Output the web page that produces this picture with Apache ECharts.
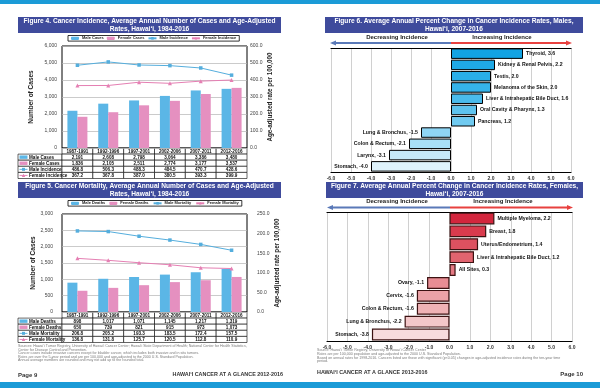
<!DOCTYPE html>
<html><head><meta charset="utf-8">
<script src="https://cdn.jsdelivr.net/npm/echarts@6/dist/echarts.min.js"></script>
<style>html,body{margin:0;padding:0;background:#fff}#c{width:600px;height:388px}</style>
</head><body><div id="c"></div><script>
// ---------- DATA ----------
const periods = ['1987-1991','1992-1996','1997-2001','2002-2006','2007-2011','2012-2016'];
const maleCases = [2191, 2608, 2798, 3064, 3386, 3480];
const femaleCases = [1836, 2105, 2511, 2774, 3177, 3537];
const maleIncidence = [486.8, 506.3, 488.3, 484.5, 470.7, 428.6];
const femaleIncidence = [367.2, 367.8, 387.0, 380.5, 393.3, 399.9];
const maleDeaths = [898, 1017, 1071, 1145, 1217, 1319];
const femaleDeaths = [650, 739, 821, 915, 973, 1073];
const maleMortality = [206.8, 205.2, 193.3, 183.5, 172.4, 157.5];
const femaleMortality = [136.8, 131.8, 125.7, 120.5, 112.8, 110.9];
const maleSites = ['Thyroid','Kidney & Renal Pelvis','Testis','Melanoma of the Skin','Liver & Intrahepatic Bile Duct','Oral Cavity & Pharynx','Pancreas','Lung & Bronchus','Colon & Rectum','Larynx','Stomach'];
const maleAPC = [3.6, 2.2, 2.0, 2.0, 1.6, 1.3, 1.2, -1.5, -2.1, -3.1, -4.0];
const femaleSites = ['Multiple Myeloma','Breast','Uterus/Endometrium','Liver & Intrahepatic Bile Duct','All Sites','Ovary','Cervix','Colon & Rectum','Lung & Bronchus','Stomach'];
const femaleAPC = [2.2, 1.8, 1.4, 1.2, 0.3, -1.1, -1.6, -1.6, -2.2, -3.8];
const casesTicks = {min:0, max:6000, interval:1000};
const incRateTicks = {min:0, max:600, interval:100};
const deathTicks = {min:0, max:3000, interval:500};
const mortRateTicks = {min:0, max:250, interval:50};
const apcTicks = {min:-6, max:6, interval:1};

// ---------- STYLE / LAYOUT ----------
const F = '"Liberation Sans", Arial, sans-serif';
const G4 = {left:62, top:46, width:185, height:102};
const G5 = {left:62, top:214, width:185, height:98};
const G6 = {left:331, top:48, width:240, height:124};
const G7 = {left:327, top:212, width:245, height:129};
const C = {maleBar:'#5bb6e6', femaleBar:'#e590c0', maleLine:'#55aedd', femaleLine:'#e57fb3',
           banner:'#3f4b9c', stripe:'#1b9bd7', blueArrow:'#5a79b8', redArrow:'#e8413f'};
const maleColors = ['#12a3e3','#1fa9e6','#2aaee8','#35b3ea','#4abbec','#5ec3ee','#70caf0','#8fd5f4','#a8dff6','#c5e9f9','#dff3fc'];
const femaleColors = ['#d3263d','#d93b4d','#dd5160','#e1646f','#e57a84','#e88d94','#eca2a7','#efb2b5','#f3c7c9','#f7dcdd'];
const fmtInt = v => v.toLocaleString('en-US');
const fmt1 = v => v.toFixed(1);

function countAxis(gi, t, nameGap, margin){
  return {type:'value', gridIndex:gi, position:'left', min:t.min, max:t.max, interval:t.interval,
    name:'Number of Cases', nameLocation:'middle', nameGap,
    nameTextStyle:{fontFamily:F, fontSize:6.5, fontWeight:'bold', color:'#222'},
    axisLine:{show:false}, axisTick:{show:false},
    axisLabel:{fontFamily:F, fontSize:5, color:'#444', margin, formatter:v=>fmtInt(v)},
    splitLine:{lineStyle:{color:'#b5b5b5', width:0.7}}};
}
function rateAxis(gi, t, nameGap, margin){
  return {type:'value', gridIndex:gi, position:'right', min:t.min, max:t.max, interval:t.interval,
    name:'Age-adjusted rate per 100,000', nameLocation:'middle', nameGap,
    nameTextStyle:{fontFamily:F, fontSize:6.3, fontWeight:'bold', color:'#222'},
    axisLine:{show:false}, axisTick:{show:false},
    axisLabel:{fontFamily:F, fontSize:5, color:'#444', margin, formatter:v=>fmt1(v)},
    splitLine:{show:false}};
}
function catAxis(gi){
  return {type:'category', gridIndex:gi, data:periods, axisLine:{show:false}, axisTick:{show:false}, axisLabel:{show:false}};
}
function apcAxis(gi, pos, labels){
  return {type:'value', gridIndex:gi, position:pos, min:apcTicks.min, max:apcTicks.max, interval:apcTicks.interval,
    axisLine:{show:true, onZero:false, lineStyle:{color:'#000', width:1.2}}, axisTick:{show:false},
    axisLabel:{show:labels, fontFamily:F, fontSize:5, fontWeight:'bold', color:'#333', margin:4, formatter:v=>fmt1(v)},
    splitLine:{show:pos==='bottom', lineStyle:{color:'#c4c4c4', width:0.8}}};
}
function siteAxis(gi, sites){
  return {type:'category', gridIndex:gi, data:sites, inverse:true, axisLine:{show:false}, axisTick:{show:false}, axisLabel:{show:false}};
}
function legendBox(names, left, top, gap){
  return {data:names, left, top, orient:'horizontal', borderColor:'#000', borderWidth:0.8, backgroundColor:'#fff',
    padding:[0.8,3,0.8,3], itemGap:gap, itemWidth:8, itemHeight:3.2,
    textStyle:{fontFamily:F, fontSize:4, fontWeight:'bold', color:'#222', padding:[0,0,0,-2]}};
}
function apcSeries(name, xi, yi, sites, vals, colors, border, bw, gap){
  return {type:'bar', name, xAxisIndex:xi, yAxisIndex:yi, barCategoryGap:gap,
    data: vals.map((v,i)=>({value:v, itemStyle:{color:colors[i]}, label:{position: v>=0?'right':'left'}})),
    itemStyle:{borderColor:border, borderWidth:bw},
    label:{show:true, fontFamily:F, fontSize:5.2, fontWeight:'bold', color:'#111', distance:3,
      formatter:p=>p.name+', '+fmt1(p.value)}};
}

// ---------- GRAPHICS ----------
const gfx = [];
const txt = (x,y,text,font,fill,align,va) => ({type:'text', x, y, z:10,
  style:{text, font, fill:fill||'#111', align:align||'left', verticalAlign:va||'middle'}});
gfx.push({type:'rect', shape:{x:0,y:0,width:600,height:4}, style:{fill:C.stripe}});
gfx.push({type:'rect', shape:{x:0,y:382,width:600,height:6}, style:{fill:C.stripe}});

function banner(x,y,w,h,l1,l2){
  gfx.push({type:'rect', shape:{x,y,width:w,height:h}, style:{fill:C.banner}});
  const f = 'bold 6.6px '+F;
  gfx.push(txt(x+w/2, y+h*0.29, l1, f, '#fff', 'center'));
  gfx.push(txt(x+w/2, y+h*0.73, l2, f, '#fff', 'center'));
}
banner(18,17,263,16,'Figure 4. Cancer Incidence, Average Annual Number of Cases and Age-Adjusted','Rates, Hawai‘i, 1984-2016');
banner(18,182,263,16,'Figure 5. Cancer Mortality, Average Annual Number of Cases and Age-Adjusted','Rates, Hawai‘i, 1984-2016');
banner(325,17,258,16,'Figure 6. Average Annual Percent Change in Cancer Incidence Rates, Males,','Hawai‘i, 2007-2016');
banner(326,182,257,16,'Figure 7. Average Annual Percent Change in Cancer Incidence Rates, Females,','Hawai‘i, 2007-2016');

function arrow(x0,x1,y,ty,dx,ix){
  const mid=(x0+x1)/2;
  gfx.push({type:'line', shape:{x1:x0+3,y1:y,x2:mid,y2:y}, style:{stroke:C.blueArrow, lineWidth:1.8}});
  gfx.push({type:'line', shape:{x1:mid,y1:y,x2:x1-3,y2:y}, style:{stroke:C.redArrow, lineWidth:1.8}});
  gfx.push({type:'polygon', shape:{points:[[x0,y],[x0+6,y-2.6],[x0+6,y+2.6]]}, style:{fill:C.blueArrow}});
  gfx.push({type:'polygon', shape:{points:[[x1,y],[x1-6,y-2.6],[x1-6,y+2.6]]}, style:{fill:C.redArrow}});
  const f='bold 6px '+F;
  gfx.push(txt(dx, ty, 'Decreasing Incidence', f, '#222', 'center'));
  gfx.push(txt(ix, ty, 'Increasing Incidence', f, '#222', 'center'));
}
arrow(330,572,43,37.5,397,502);
arrow(327,573,207.5,201.5,397,503);

function table(g, rows, rowH, labelX){
  const n=periods.length, cw=g.width/n, y0=g.top+g.height;
  const f='bold 4.6px '+F, cell={fill:'#fff', stroke:'#000', lineWidth:0.6};
  periods.forEach((p,i)=>{
    gfx.push({type:'rect', shape:{x:g.left+i*cw, y:y0, width:cw, height:rowH}, style:cell});
    gfx.push(txt(g.left+i*cw+cw/2, y0+rowH/2+0.3, p, f, '#111', 'center'));
  });
  rows.forEach((r,ri)=>{
    const y=y0+rowH*(ri+1), cy=y+rowH/2;
    gfx.push({type:'rect', shape:{x:labelX, y, width:g.left-labelX, height:rowH}, style:cell});
    if(r.icon==='bar'){
      gfx.push({type:'rect', z:11, shape:{x:labelX+1.5, y:cy-1.7, width:8, height:3.4}, style:{fill:r.color}});
    } else {
      gfx.push({type:'line', z:11, shape:{x1:labelX+1.5,y1:cy,x2:labelX+9.5,y2:cy}, style:{stroke:r.color, lineWidth:0.9}});
      if(r.icon==='rect') gfx.push({type:'rect', z:11, shape:{x:labelX+4, y:cy-1.5, width:3, height:3}, style:{fill:r.color}});
      else gfx.push({type:'polygon', z:11, shape:{points:[[labelX+5.5,cy-1.8],[labelX+3.8,cy+1.5],[labelX+7.2,cy+1.5]]}, style:{fill:r.color}});
    }
    gfx.push(txt(labelX+11, cy+0.3, r.name, f, '#111', 'left'));
    r.values.forEach((v,i)=>{
      gfx.push({type:'rect', shape:{x:g.left+i*cw, y, width:cw, height:rowH}, style:cell});
      gfx.push(txt(g.left+i*cw+cw/2, cy+0.3, r.fmt(v), f, '#111', 'center'));
    });
  });
}
table(G4, [
  {name:'Male Cases', values:maleCases, fmt:fmtInt, icon:'bar', color:C.maleBar},
  {name:'Female Cases', values:femaleCases, fmt:fmtInt, icon:'bar', color:C.femaleBar},
  {name:'Male Incidence', values:maleIncidence, fmt:fmt1, icon:'rect', color:C.maleLine},
  {name:'Female Incidence', values:femaleIncidence, fmt:fmt1, icon:'tri', color:C.femaleLine}
], 6.1, 18);
table(G5, [
  {name:'Male Deaths', values:maleDeaths, fmt:fmtInt, icon:'bar', color:C.maleBar},
  {name:'Female Deaths', values:femaleDeaths, fmt:fmtInt, icon:'bar', color:C.femaleBar},
  {name:'Male Mortality', values:maleMortality, fmt:fmt1, icon:'rect', color:C.maleLine},
  {name:'Female Mortality', values:femaleMortality, fmt:fmt1, icon:'tri', color:C.femaleLine}
], 6.1, 18);

const nf='3.6px '+F, nc='#7a7a7a';
['Sources: Hawai‘i Tumor Registry, University of Hawai‘i Cancer Center; Hawai‘i State Department of Health; National Center for Health Statistics,',
 'Center for Disease Control and Prevention.',
 'Cancer cases include invasive cancers except for bladder cancer, which includes both invasive and in situ tumors.',
 'Rates are over the 5-year period and are per 100,000 and age-adjusted to the 2000 U.S. Standard Population.',
 'Annual average numbers are rounded and may not add up to the rounded total.'
].forEach((s,i)=>gfx.push(txt(18, 346+i*3.6, s, nf, nc)));
['Source: Hawai‘i Tumor Registry, University of Hawai‘i Cancer Center',
 'Rates are per 100,000 population and age-adjusted to the 2000 U.S. Standard Population.',
 'Based on annual rates for 1998-2016. Cancers listed are those with significant (p<0.05) changes in age-adjusted incidence rates during the ten-year time',
 'period.'
].forEach((s,i)=>gfx.push(txt(317, 350+i*3.8, s, nf, nc)));
gfx.push(txt(18, 375, 'Page 9', 'bold 6px '+F, '#333'));
gfx.push(txt(283, 375, 'HAWAI‘I CANCER AT A GLANCE 2012-2016', 'bold 5.4px '+F, '#333', 'right'));
gfx.push(txt(317, 373, 'HAWAI‘I CANCER AT A GLANCE 2013-2016', 'bold 5.4px '+F, '#333'));
gfx.push(txt(583, 374, 'Page 10', 'bold 6px '+F, '#333', 'right'));

// ---------- OPTION ----------
const gridBox = g => Object.assign({show:true, borderColor:'#000', borderWidth:1, backgroundColor:'#fff'}, g);
const option = {
  animation:false,
  backgroundColor:'#fff',
  textStyle:{fontFamily:F},
  grid:[gridBox(G4), gridBox(G5), Object.assign({show:false}, G6), Object.assign({show:false}, G7)],
  legend:[
    legendBox(['Male Cases','Female Cases','Male Incidence','Female Incidence'], 68, 35.5, 3),
    legendBox(['Male Deaths','Female Deaths','Male Mortality','Female Mortality'], 68, 200.5, 4)
  ],
  xAxis:[catAxis(0), catAxis(1), apcAxis(2,'bottom',true), apcAxis(2,'top',false), apcAxis(3,'bottom',true), apcAxis(3,'top',false)],
  yAxis:[countAxis(0,casesTicks,27,5), rateAxis(0,incRateTicks,20,3), countAxis(1,deathTicks,21,9), rateAxis(1,mortRateTicks,27,10),
         siteAxis(2,maleSites), siteAxis(3,femaleSites)],
  series:[
    {type:'bar', name:'Male Cases', xAxisIndex:0, yAxisIndex:0, data:maleCases, barWidth:10, barGap:'0%', itemStyle:{color:C.maleBar}},
    {type:'bar', name:'Female Cases', xAxisIndex:0, yAxisIndex:0, data:femaleCases, barWidth:10, barGap:'0%', itemStyle:{color:C.femaleBar}},
    {type:'line', name:'Male Incidence', xAxisIndex:0, yAxisIndex:1, data:maleIncidence, symbol:'rect', symbolSize:3.5, z:5,
      itemStyle:{color:C.maleLine}, lineStyle:{color:C.maleLine, width:1}},
    {type:'line', name:'Female Incidence', xAxisIndex:0, yAxisIndex:1, data:femaleIncidence, symbol:'triangle', symbolSize:4, z:5,
      itemStyle:{color:C.femaleLine}, lineStyle:{color:C.femaleLine, width:1}},
    {type:'bar', name:'Male Deaths', xAxisIndex:1, yAxisIndex:2, data:maleDeaths, barWidth:10, barGap:'0%', itemStyle:{color:C.maleBar}},
    {type:'bar', name:'Female Deaths', xAxisIndex:1, yAxisIndex:2, data:femaleDeaths, barWidth:10, barGap:'0%', itemStyle:{color:C.femaleBar}},
    {type:'line', name:'Male Mortality', xAxisIndex:1, yAxisIndex:3, data:maleMortality, symbol:'rect', symbolSize:3.5, z:5,
      itemStyle:{color:C.maleLine}, lineStyle:{color:C.maleLine, width:1}},
    {type:'line', name:'Female Mortality', xAxisIndex:1, yAxisIndex:3, data:femaleMortality, symbol:'triangle', symbolSize:4, z:5,
      itemStyle:{color:C.femaleLine}, lineStyle:{color:C.femaleLine, width:1}},
    apcSeries('Males APC', 2, 4, maleSites, maleAPC, maleColors, '#000', 1, '7%'),
    apcSeries('Females APC', 4, 5, femaleSites, femaleAPC, femaleColors, '#3c1212', 1.2, '8%')
  ],
  graphic:gfx
};
const chart = echarts.init(document.getElementById('c'));
chart.setOption(option);
</script></body></html>
